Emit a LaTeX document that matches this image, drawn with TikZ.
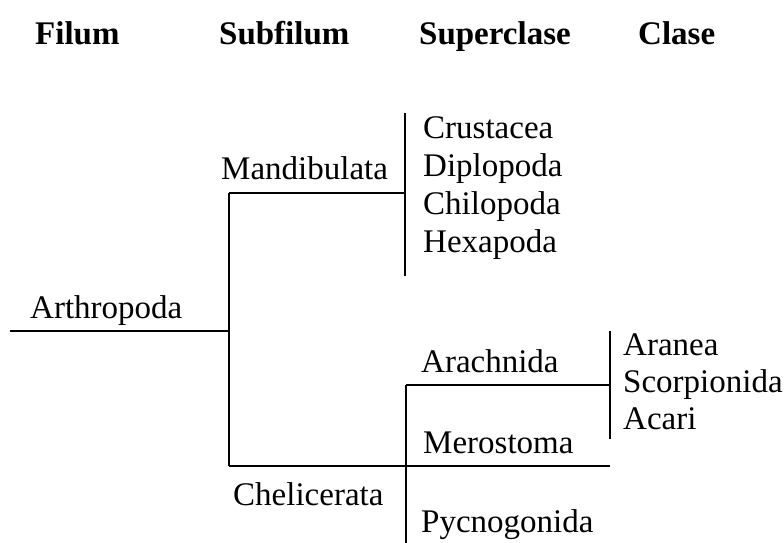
\documentclass[tikz,border=0pt]{standalone}
\usepackage{fontspec}
\setmainfont{Liberation Serif}
\begin{document}
\begin{tikzpicture}[x=1pt,y=-1pt,
  lbl/.style={anchor=base west,inner sep=0pt,font=\fontsize{33}{38}\selectfont},
  hdr/.style={anchor=base west,inner sep=0pt,font=\fontsize{33}{38}\selectfont\bfseries},
  br/.style={line width=1.8pt,line cap=butt}]
\useasboundingbox (0,0) rectangle (784,543);
% headers
\node[hdr] (hfil) at (35,45) {Filum};
\node[hdr] (hsub) at (219,45) {Subfilum};
\node[hdr] (hsup) at (419,45) {Superclase};
\node[hdr] (hcla) at (638,45) {Clase};
% labels
\node[lbl] (arth) at (30,318) {Arthropoda};
\node[lbl] (mand) at (221,179) {Mandibulata};
\node[lbl] (chel) at (233,505) {Chelicerata};
\node[lbl] (crus) at (423,138) {Crustacea};
\node[lbl] (dipl) at (423,176) {Diplopoda};
\node[lbl] (chil) at (423,214) {Chilopoda};
\node[lbl] (hexa) at (423,252) {Hexapoda};
\node[lbl] (arac) at (421,372) {Arachnida};
\node[lbl] (mero) at (423,453) {Merostoma};
\node[lbl] (pycn) at (421,532) {Pycnogonida};
\node[lbl] (aran) at (623,355) {Aranea};
\node[lbl] (scor) at (623,392) {Scorpionida};
\node[lbl] (acar) at (623,429) {Acari};
% junction coordinates
\coordinate (a0) at (10,331);
\coordinate (a1) at (229,331);
\coordinate (m0) at (229,193);
\coordinate (m1) at (405,193);
\coordinate (mt) at (405,113);
\coordinate (mb) at (405,276);
\coordinate (c0) at (229,466);
\coordinate (c2) at (610,466);
\coordinate (ct) at (406,385);
\coordinate (cb) at (406,543);
\coordinate (r1) at (610,385);
\coordinate (rt) at (610,331);
\coordinate (rb) at (610,439);
% connectors
\draw[br] (a0) -- (a1);
\draw[br] (m0) -- (c0);
\draw[br] (m0) -- (m1);
\draw[br] (mt) -- (mb);
\draw[br] (c0) -- (c2);
\draw[br] (ct) -- (cb);
\draw[br] (ct) -- (r1);
\draw[br] (rt) -- (rb);
\end{tikzpicture}
\end{document}
